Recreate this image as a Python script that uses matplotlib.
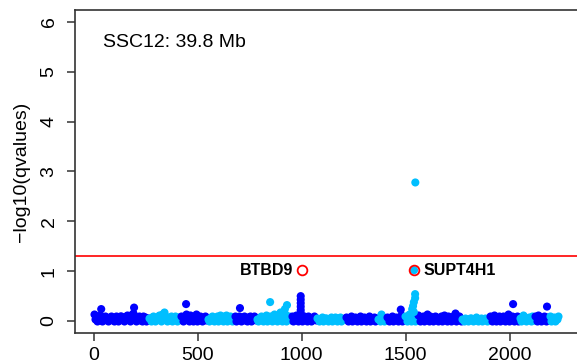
import numpy as np
import matplotlib
matplotlib.use("Agg")
import matplotlib.pyplot as plt

plt.rcParams['font.family'] = ['Liberation Sans', 'DejaVu Sans']

# segment boundaries along the x axis (alternating blue / cyan blocks)
seg_edges = [1, 267, 421, 550, 680, 786, 954, 1075, 1214, 1368, 1411,
             1498, 1560, 1772, 1906, 2050, 2123, 2195, 2240]
seg_colors = ['blue', 'deepskyblue']

# -log10(q) values of the dense band, one list per segment
band_q = [
    [0.15, 0.05, 0.0, 0.1, 0.12, 0.03, 0.0, 0.08, 0.1, 0.04, 0.0, 0.09, 0.1, 0.02, 0.0, 0.1, 0.07, 0.0, 0.1,
     0.11, 0.03, 0.0, 0.1, 0.12, 0.05, 0.0, 0.14, 0.17, 0.1, 0.0, 0.06, 0.1, 0.02, 0.0, 0.1, 0.08, 0.0, 0.07],
    [0.06, 0.0, 0.08, 0.1, 0.0, 0.04, 0.1, 0.12, 0.0, 0.15, 0.18, 0.1, 0.0, 0.08, 0.02, 0.1, 0.0, 0.06, 0.1, 0.0, 0.09, 0.04],
    [0.1, 0.0, 0.05, 0.15, 0.1, 0.0, 0.12, 0.05, 0.0, 0.1, 0.14, 0.0, 0.08, 0.1, 0.0, 0.06, 0.1, 0.02],
    [0.05, 0.0, 0.08, 0.1, 0.0, 0.06, 0.1, 0.0, 0.12, 0.05, 0.0, 0.1, 0.13, 0.0, 0.08, 0.1, 0.0, 0.07],
    [0.1, 0.0, 0.06, 0.1, 0.0, 0.08, 0.1, 0.02, 0.0, 0.09, 0.1, 0.0, 0.05, 0.1, 0.03],
    [0.05, 0.0, 0.08, 0.1, 0.0, 0.06, 0.12, 0.0, 0.08, 0.1, 0.0, 0.05, 0.14, 0.1, 0.0, 0.12, 0.18, 0.0, 0.1, 0.15, 0.0, 0.08, 0.1, 0.03],
    [0.1, 0.0, 0.06, 0.12, 0.0, 0.1, 0.04, 0.0, 0.1, 0.08, 0.0, 0.1, 0.04, 0.0, 0.08, 0.1, 0.02],
    [0.06, 0.0, 0.04, 0.08, 0.0, 0.06, 0.07, 0.0, 0.03, 0.08, 0.0, 0.05, 0.09, 0.0, 0.06, 0.08, 0.0, 0.05, 0.07],
    [0.08, 0.0, 0.05, 0.1, 0.0, 0.07, 0.09, 0.0, 0.04, 0.1, 0.0, 0.06, 0.09, 0.0, 0.05, 0.1, 0.0, 0.07, 0.09, 0.0, 0.06],
    [0.05, 0.0, 0.14, 0.08, 0.0, 0.04],
    [0.08, 0.0, 0.05, 0.1, 0.0, 0.06, 0.09, 0.0, 0.04, 0.12, 0.0, 0.08],
    [0.1, 0.0, 0.06, 0.15, 0.0, 0.1, 0.12, 0.0, 0.05],
    [0.12, 0.0, 0.08, 0.1, 0.0, 0.05, 0.14, 0.0, 0.1, 0.06, 0.0, 0.1, 0.08, 0.0, 0.05, 0.1, 0.0, 0.12, 0.06, 0.0,
     0.1, 0.08, 0.0, 0.1, 0.16, 0.0, 0.06, 0.1, 0.0],
    [0.05, 0.0, 0.07, 0.04, 0.0, 0.06, 0.07, 0.0, 0.03, 0.08, 0.0, 0.05, 0.06, 0.0, 0.04, 0.07, 0.0, 0.05],
    [0.1, 0.0, 0.06, 0.12, 0.0, 0.08, 0.1, 0.0, 0.05, 0.1, 0.0, 0.08, 0.14, 0.0, 0.06, 0.1, 0.0, 0.08, 0.1, 0.0],
    [0.06, 0.0, 0.12, 0.08, 0.0, 0.05, 0.08, 0.0, 0.1, 0.03],
    [0.1, 0.0, 0.13, 0.08, 0.0, 0.06, 0.1, 0.0, 0.08, 0.04],
    [0.1, 0.0, 0.06, 0.08, 0.0, 0.05, 0.1],
]

# isolated higher points
peak_pos = [37, 195, 445, 704, 849, 920, 930,
            996, 996, 996, 996, 996, 996, 1477,
            1546, 1546, 1540, 1536, 1532, 1540,
            1541, 1547, 2017, 2180]
peak_q = [0.24, 0.27, 0.34, 0.26, 0.38, 0.24, 0.32,
          0.5, 0.43, 0.36, 0.29, 0.22, 0.16, 0.23,
          0.54, 0.46, 0.38, 0.3, 0.24, 0.18,
          1.02, 2.78, 0.34, 0.29]

genes = ['BTBD9', 'SUPT4H1']
gene_pos = [1000, 1541]
gene_q = [1.02, 1.02]

threshold = -np.log10(0.05)
title = 'SSC12: 39.8 Mb'

fig = plt.figure(figsize=(5.77, 3.64), dpi=100)
ax = fig.add_axes([75/577, 1 - 333/364, 503/577, 323/364])

for i, vals in enumerate(band_q):
	xs = np.linspace(seg_edges[i], seg_edges[i+1], len(vals), endpoint=False)
	ax.scatter(xs, vals, s=34, color=seg_colors[i % 2], linewidths=0, zorder=2)

peak_seg = np.searchsorted(seg_edges, peak_pos, side='right') - 1
peak_col = [seg_colors[k % 2] for k in peak_seg]
ax.scatter(peak_pos, peak_q, s=34, c=peak_col, linewidths=0, zorder=3)

ax.axhline(threshold, color='red', lw=1.2, zorder=1)

ax.plot(gene_pos, gene_q, 'o', ms=7, mfc='none', mec='red', mew=1.3, zorder=4)
ax.annotate(genes[0], (gene_pos[0], gene_q[0]), xytext=(-6, 0), textcoords='offset points',
	ha='right', va='center', fontsize=11.5, fontweight='bold')
ax.annotate(genes[1], (gene_pos[1], gene_q[1]), xytext=(6.5, 0), textcoords='offset points',
	ha='left', va='center', fontsize=11.5, fontweight='bold')

ax.text(45, 5.58, title, ha='left', va='center', fontsize=14)

ax.set_xlim(-89, 2329)
ax.set_ylim(-0.24, 6.24)
ax.set_xticks([0, 500, 1000, 1500, 2000])
ax.set_yticks(range(7))
ax.tick_params(length=6, width=1.1, color='#333333', labelsize=14)
ax.tick_params(axis='x', pad=4)
ax.tick_params(axis='y', pad=6.5)
for lab in ax.get_yticklabels():
	lab.set_rotation(90)
	lab.set_rotation_mode('default')
	lab.set_ha('right')
	lab.set_va('center')
for sp in ax.spines.values():
	sp.set_color('#333333')
	sp.set_linewidth(1.2)

fig.text(22/577, 1 - 172/364, '\u2212log10(qvalues)', rotation=90, ha='center', va='center', fontsize=14)

fig.savefig('out.png', dpi=100)
